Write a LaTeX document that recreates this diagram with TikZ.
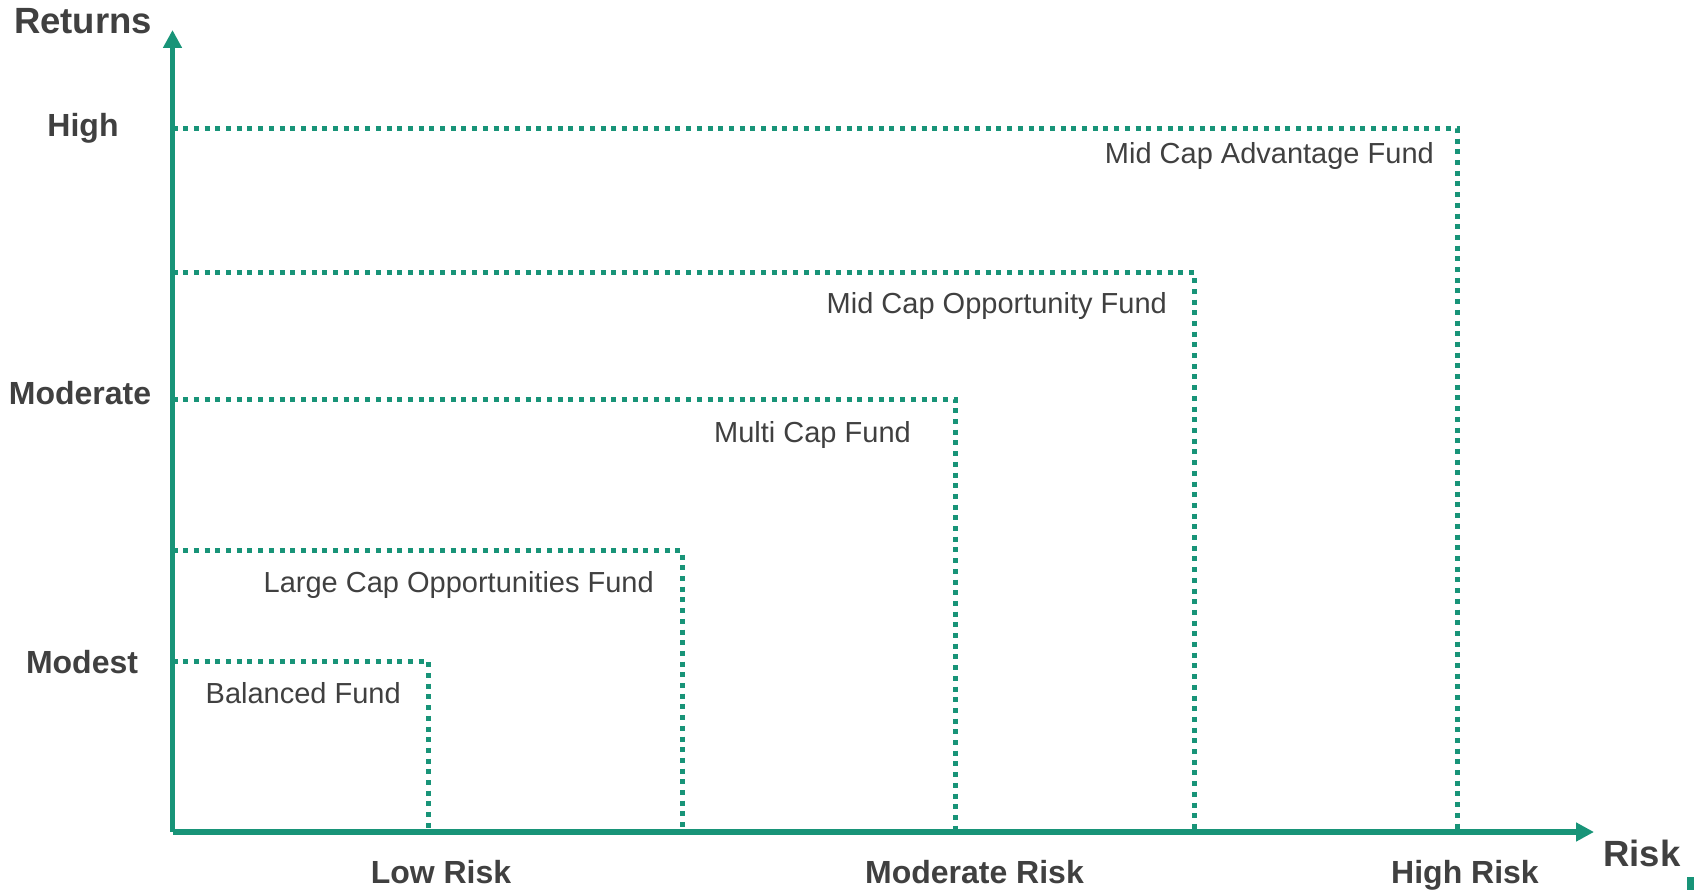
\documentclass[tikz,border=0pt]{standalone}
\usepackage{fontspec}
\setmainfont{Liberation Sans}
\usetikzlibrary{arrows.meta}
\definecolor{riskgreen}{RGB}{24,148,120}
\definecolor{labelgray}{RGB}{64,64,64}

\begin{document}
\begin{tikzpicture}[x=1pt, y=-1pt,
	axisline/.style={line width=5.5pt, color=riskgreen, -{Triangle[length=18pt, width=18pt]}},
	fundbox/.style={line width=5pt, color=riskgreen, dash pattern=on 5pt off 5.7pt},
	fundlabel/.style={text=labelgray, inner sep=0pt, anchor=base east, font=\fontsize{29}{34}\selectfont},
	levellabel/.style={text=labelgray, inner sep=0pt, anchor=base, font=\bfseries\fontsize{32}{38}\selectfont},
	axistitle/.style={text=labelgray, inner sep=0pt, anchor=base, font=\bfseries\fontsize{36.5}{42}\selectfont}]
		%%%%% START %%%%%
		\useasboundingbox (0, 0) rectangle (1694, 890);
		
		\coordinate (origin) at (172.5, 832);
		\coordinate (ytip) at (172.5, 30);
		\coordinate (xtip) at (1594, 832);
		
		% fund boxes
		\draw[fundbox] (172.5, 661) -| (428, 832);
		\draw[fundbox] (172.5, 550.5) -| (682, 832);
		\draw[fundbox] (172.5, 399) -| (955, 832);
		\draw[fundbox] (172.5, 272.5) -| (1194, 832);
		\draw[fundbox] (172.5, 129) -| (1457.5, 832);
		
		\node[fundlabel] (balanced) at (401, 703.5) {Balanced Fund};
		\node[fundlabel] (largecap) at (654, 592.5) {Large Cap Opportunities Fund};
		\node[fundlabel] (multicap) at (911, 442.5) {Multi Cap Fund};
		\node[fundlabel] (midopp) at (1167, 314) {Mid Cap Opportunity Fund};
		\node[fundlabel] (midadv) at (1434, 164) {Mid Cap Advantage Fund};
		
		% axes
		\draw[axisline] (origin) -- (ytip);
		\draw[axisline] (origin) -- (xtip);
		
		\node[axistitle] (returns) at (83, 33.3) {Returns};
		\node[axistitle] (risk) at (1642, 866) {Risk};
		
		\node[levellabel] (high) at (83, 136.7) {High};
		\node[levellabel] (moderate) at (80, 404) {Moderate};
		\node[levellabel] (modest) at (82, 673) {Modest};
		
		\node[levellabel] (lowrisk) at (441, 883) {Low Risk};
		\node[levellabel] (modrisk) at (974.5, 883) {Moderate Risk};
		\node[levellabel] (highrisk) at (1465, 883) {High Risk};
		
		\fill[riskgreen] (1687, 877) rectangle (1694, 890);
		%%%%% END %%%%%
\end{tikzpicture}
\end{document}
